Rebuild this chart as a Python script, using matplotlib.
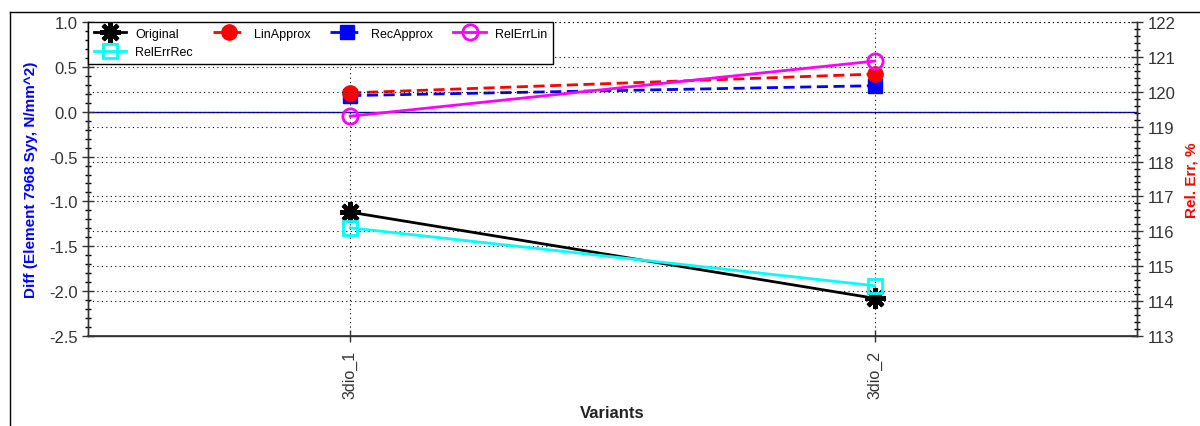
import matplotlib
matplotlib.use("Agg")
import matplotlib.pyplot as plt
from matplotlib.ticker import MultipleLocator
from matplotlib.lines import Line2D

plt.rcParams['font.family'] = ['Liberation Sans', 'DejaVu Sans']

categories = ["3dio_1", "3dio_2"]
original = [-1.12, -2.08]
lin_approx = [0.21, 0.42]
rec_approx = [0.18, 0.29]
rel_err_lin = [119.3, 120.88]
rel_err_rec = [116.1, 114.44]

W, H = 1200, 427
fig = plt.figure(figsize=(W / 100, H / 100), dpi=100)
L, R, T, B = 88, 1137, 23, 337
ax = fig.add_axes([L / W, 1 - B / H, (R - L) / W, (B - T) / H])
ax2 = ax.twinx()

x = list(range(len(categories)))
grid_ls = (0, (1, 3))

# left axis
ax.set_xlim(-0.5, 1.5)
ax.set_ylim(-2.5, 1.0)
ax.yaxis.set_major_locator(MultipleLocator(0.5))
ax.yaxis.set_minor_locator(MultipleLocator(0.1))
ax.set_xticks(x)
ax.set_xticklabels(categories, rotation=90)
ax.grid(True, axis='both', which='major', linestyle=grid_ls, color='black', linewidth=0.8)
ax.axhline(0, color='#0000cc', linewidth=1, zorder=1)
ax.yaxis.set_major_formatter(matplotlib.ticker.FormatStrFormatter('%.1f'))

# right axis
ax2.set_ylim(113, 122)
ax2.yaxis.set_major_locator(MultipleLocator(1))
ax2.yaxis.set_minor_locator(MultipleLocator(0.2))
ax2.grid(True, axis='y', which='major', linestyle=grid_ls, color='black', linewidth=0.8)

for a in (ax, ax2):
    a.tick_params(which='major', direction='inout', length=8, width=1, labelsize=12, colors='#333333')
    a.tick_params(which='minor', direction='inout', length=4, width=1)
    for s in a.spines.values():
        s.set_color('#333333')
        s.set_linewidth(1)
ax.tick_params(axis='x', length=8, pad=6, labelsize=11.5)
ax.spines['top'].set_visible(False)
ax2.spines['top'].set_visible(False)
ax.spines['bottom'].set_linewidth(1.2)

lw = 2
h_orig, = ax.plot(x, original, color='black', lw=lw, marker=(8, 2, 0), ms=15, mew=3, label='Original', zorder=5)
h_lin, = ax.plot(x, lin_approx, color='#ff0000', lw=lw, ls=(0, (4, 2)), marker='o', ms=11, label='LinApprox', zorder=5)
h_rec, = ax.plot(x, rec_approx, color='#0000ff', lw=lw, ls=(0, (4, 2)), marker='s', ms=10, label='RecApprox', zorder=4)
h_rlin, = ax2.plot(x, rel_err_lin, color='#ff00ff', lw=lw, marker='o', ms=11, mfc='none', mew=2, label='RelErrLin', zorder=5)
h_rrec, = ax2.plot(x, rel_err_rec, color='#00ffff', lw=lw, marker='s', ms=10, mfc='none', mew=2, label='RelErrRec', zorder=5)

ax.set_ylabel('Diff (Element 7968 Syy, N/mm^2)', color='#0000ff', fontsize=11, fontweight='bold')
ax.yaxis.set_label_coords(-50 / (R - L), 0.5)
ax2.set_ylabel('Rel. Err, %', color='#ff0000', fontsize=11, fontweight='bold', rotation=90)
ax2.yaxis.set_label_coords(1 + 47 / (R - L), 0.5)
ax.set_xlabel('Variants', fontsize=12, fontweight='bold', color='#222222')
ax.xaxis.set_label_coords(0.5, -(406 - B) / (B - T))

handles = [h_orig, h_rrec, h_lin, h_rec, h_rlin]
leg = ax2.legend(handles=handles, labels=[h.get_label() for h in handles], ncol=4,
                 loc='upper left', bbox_to_anchor=(0, 1), borderaxespad=0,
                 fancybox=False, framealpha=1, edgecolor='black', fontsize=9,
                 handlelength=2.6, handletextpad=0.7, columnspacing=1.6,
                 labelspacing=0.55, borderpad=0.45)
leg.get_frame().set_linewidth(1)
leg.set_zorder(10)

# outer frame
fig.add_artist(Line2D([10 / W, 10 / W], [0, 1 - 13 / H], transform=fig.transFigure, color='black', lw=1))
fig.add_artist(Line2D([10 / W, 1], [1 - 13 / H, 1 - 13 / H], transform=fig.transFigure, color='black', lw=1))

fig.savefig('out.png', dpi=100)
